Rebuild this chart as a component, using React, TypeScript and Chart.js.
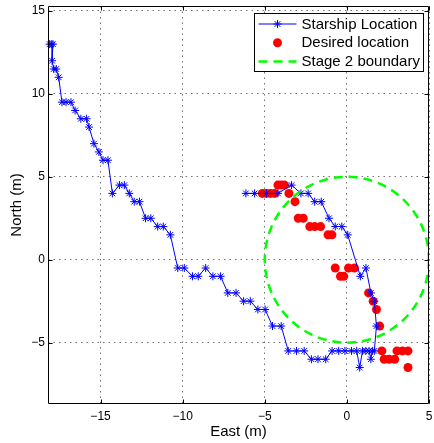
import React, { useEffect, useRef } from 'react';
import { Chart, registerables } from 'chart.js';

Chart.register(...registerables);

// ---------------- data ----------------
const starshipEast = [
  -18.1, -18.0, -17.9, -17.95, -17.85, -17.7, -17.55, -17.35, -17.1, -16.8,
  -16.55, -16.2, -15.85, -15.7, -15.4, -15.1, -14.85, -14.55, -14.28, -13.85,
  -13.55, -13.25, -12.95, -12.63, -12.26, -11.94, -11.52, -11.18, -10.75, -10.3,
  -9.9, -9.4, -9.05, -8.6, -8.16, -7.69, -7.25, -6.75, -6.29, -5.88,
  -5.42, -4.98, -4.53, -4.0, -3.57, -3.07, -2.6, -2.16, -1.76, -1.29,
  -0.9, -0.5, -0.12, 0.28, 0.6, 0.78, 0.95, 1.15, 1.35, 1.46,
  1.55, 1.67, 1.8, 1.67, 1.46, 1.16, 0.82, 0.05, -0.31, -0.71,
  -1.09, -1.56, -1.96, -2.36, -2.8, -3.37, -4.2, -4.9, -5.62, -6.15,
];
const starshipNorth = [
  13, 13, 13, 12, 11.5, 11.5, 11, 9.5, 9.5, 9.5,
  9, 8.5, 8.5, 8, 7, 6.5, 6, 6, 4, 4.5,
  4.5, 4, 3.5, 3.5, 2.5, 2.5, 2, 2, 1.5, -0.5,
  -0.5, -1, -1, -0.5, -1, -1, -2, -2, -2.5, -2.5,
  -3, -3, -4, -4, -5.5, -5.5, -5.5, -6, -6, -6,
  -5.5, -5.5, -5.5, -5.5, -5.5, -6.5, -5.5, -5.5, -5.5, -6,
  -5.5, -5.5, -4, -2.5, -2, -0.5, -1, 1.5, 2, 2,
  2.5, 3.5, 3.5, 4, 4, 4.5, 4, 4, 4, 4,
];

const desiredEast = [
  -5.15, -4.9, -4.65, -4.4, -3.53, -4.2, -4.0, -3.8, -3.16, -2.96,
  -2.66, -2.26, -1.96, -1.6, -1.15, -0.91, -0.71, -0.39, -0.19, 0.1,
  0.46, 1.32, 1.6, 1.8, 2.0, 2.13, 2.27, 2.57, 2.91, 3.05,
  3.38, 3.72, 3.72,
];
const desiredNorth = [
  4, 4, 4, 4, 4, 4.5, 4.5, 4.5, 3.5, 2.5,
  2.5, 2, 2, 2, 1.5, 1.5, -0.5, -1, -1, -0.5,
  -0.5, -2, -2.5, -3, -4, -5.5, -6, -6, -6, -5.5,
  -5.5, -5.5, -6.5,
];

const boundaryCenter = [0, 0];
const boundaryRadius = 5;

const xTicks = [-15, -10, -5, 0, 5];
const yTicks = [-5, 0, 5, 10, 15];
const xRange = [-18.2, 5];
const yRange = [-8.7, 15.3];

const xTitle = 'East (m)';
const yTitle = 'North (m)';
const legendLabels = ['Starship Location', 'Desired location', 'Stage 2 boundary'];

// ---------------- styles ----------------
const FONT = '"Liberation Sans", Arial, Helvetica, sans-serif';
const BLUE = '#0000ff';
const RED = '#ff0000';
const GREEN = '#00ff00';

function drawStar(ctx: CanvasRenderingContext2D, x: number, y: number, r: number) {
  ctx.beginPath();
  for (let k = 0; k < 4; k++) {
    const ang = (k * Math.PI) / 4;
    ctx.moveTo(x - Math.cos(ang) * r, y - Math.sin(ang) * r);
    ctx.lineTo(x + Math.cos(ang) * r, y + Math.sin(ang) * r);
  }
  ctx.stroke();
}

const overlayPlugin = {
  id: 'overlay',
  afterDatasetsDraw(chart: any) {
    const { ctx, chartArea: a, scales } = chart;
    const x = scales.x;
    const y = scales.y;
    const cx = x.getPixelForValue(boundaryCenter[0]);
    const cy = y.getPixelForValue(boundaryCenter[1]);
    const rx = Math.abs(x.getPixelForValue(boundaryCenter[0] + boundaryRadius) - cx);
    const ry = Math.abs(y.getPixelForValue(boundaryCenter[1] + boundaryRadius) - cy);
    ctx.save();
    ctx.beginPath();
    ctx.rect(a.left, a.top, a.right - a.left, a.bottom - a.top);
    ctx.clip();
    ctx.beginPath();
    ctx.ellipse(cx, cy, rx, ry, 0, 0, Math.PI * 2);
    ctx.strokeStyle = GREEN;
    ctx.lineWidth = 2.5;
    ctx.setLineDash([9, 6]);
    ctx.stroke();
    ctx.restore();
  },
  afterDraw(chart: any) {
    const { ctx, chartArea: a, scales } = chart;
    const x = scales.x;
    const y = scales.y;
    ctx.save();
    // axes box
    ctx.strokeStyle = '#000';
    ctx.lineWidth = 1;
    ctx.setLineDash([]);
    const L = Math.round(a.left) + 0.5;
    const R = Math.round(a.right) - 0.5;
    const T = Math.round(a.top) + 0.5;
    const B = Math.round(a.bottom) - 0.5;
    ctx.beginPath();
    ctx.rect(L, T, R - L, B - T);
    ctx.stroke();
    // inner tick marks
    const tl = 4;
    ctx.beginPath();
    xTicks.forEach((v) => {
      const px = Math.round(x.getPixelForValue(v)) + 0.5;
      ctx.moveTo(px, B);
      ctx.lineTo(px, B - tl);
      ctx.moveTo(px, T);
      ctx.lineTo(px, T + tl);
    });
    yTicks.forEach((v) => {
      const py = Math.round(y.getPixelForValue(v)) + 0.5;
      ctx.moveTo(L, py);
      ctx.lineTo(L + tl, py);
      ctx.moveTo(R, py);
      ctx.lineTo(R - tl, py);
    });
    ctx.stroke();

    // legend
    const boxR = Math.round(a.right) - 5.5;
    const boxL = boxR - 169;
    const boxT = Math.round(a.top) + 7.5;
    const boxB = boxT + 58;
    ctx.fillStyle = '#fff';
    ctx.fillRect(boxL, boxT, boxR - boxL, boxB - boxT);
    ctx.strokeStyle = '#000';
    ctx.lineWidth = 1;
    ctx.strokeRect(boxL, boxT, boxR - boxL, boxB - boxT);
    const rowY = [boxT + 10.5, boxT + 29.2, boxT + 48];
    const sx0 = boxL + 4;
    const sx1 = boxL + 42;
    const mx = (sx0 + sx1) / 2;
    // row 1: blue line with star
    ctx.strokeStyle = BLUE;
    ctx.lineWidth = 1;
    ctx.beginPath();
    ctx.moveTo(sx0, rowY[0]);
    ctx.lineTo(sx1, rowY[0]);
    ctx.stroke();
    drawStar(ctx, mx, rowY[0], 4);
    // row 2: red dot
    ctx.fillStyle = RED;
    ctx.beginPath();
    ctx.arc(mx, rowY[1], 4.5, 0, Math.PI * 2);
    ctx.fill();
    // row 3: green dashed
    ctx.strokeStyle = GREEN;
    ctx.lineWidth = 2.5;
    ctx.setLineDash([9, 6]);
    ctx.beginPath();
    ctx.moveTo(sx0, rowY[2]);
    ctx.lineTo(sx1, rowY[2]);
    ctx.stroke();
    ctx.setLineDash([]);
    // text
    ctx.fillStyle = '#000';
    ctx.font = `15px ${FONT}`;
    ctx.textBaseline = 'middle';
    ctx.textAlign = 'left';
    legendLabels.forEach((t, i) => ctx.fillText(t, boxL + 47, rowY[i] + 0.5));
    ctx.restore();
  },
};

const minusFmt = (v: number | string) => String(v).replace('-', '\u2212');

export default function App() {
  const canvasRef = useRef<HTMLCanvasElement | null>(null);

  useEffect(() => {
    document.body.style.margin = '0';
    document.body.style.overflow = 'hidden';
    const canvas = canvasRef.current;
    if (!canvas) return;
    const starship = starshipEast.map((e, i) => ({ x: e, y: starshipNorth[i] }));
    const desired = desiredEast.map((e, i) => ({ x: e, y: desiredNorth[i] }));

    const chart = new Chart(canvas, {
      type: 'scatter',
      data: {
        datasets: [
          {
            label: legendLabels[0],
            data: starship,
            showLine: true,
            borderColor: BLUE,
            backgroundColor: BLUE,
            borderWidth: 1,
            pointStyle: 'star',
            pointRadius: 4,
            pointBorderWidth: 1,
            pointBorderColor: BLUE,
            pointHoverRadius: 4,
            clip: false,
          },
          {
            label: legendLabels[1],
            data: desired,
            showLine: false,
            pointStyle: 'circle',
            pointRadius: 4.5,
            pointBorderWidth: 0,
            backgroundColor: RED,
            borderColor: RED,
            clip: false,
          },
        ],
      },
      options: {
        animation: false,
        responsive: true,
        maintainAspectRatio: false,
        events: [],
        layout: { padding: { left: 0, right: 2, top: 6, bottom: 0 } },
        plugins: {
          legend: { display: false },
          tooltip: { enabled: false },
        },
        scales: {
          x: {
            type: 'linear',
            min: xRange[0],
            max: xRange[1],
            afterBuildTicks: (s: any) => {
              s.ticks = xTicks.map((v) => ({ value: v }));
            },
            afterFit: (s: any) => {
              s.height = 39;
              s.paddingLeft = 0;
              s.paddingRight = 0;
            },
            grid: {
              color: 'rgba(0,0,0,0.55)',
              lineWidth: 1,
              drawTicks: false,
            },
            border: { display: false, dash: [1.5, 4] },
            ticks: {
              color: '#000',
              font: { family: FONT, size: 12 },
              padding: 5,
              maxRotation: 0,
              autoSkip: false,
              callback: (v: any) => minusFmt(v),
            },
            title: {
              display: true,
              text: xTitle,
              color: '#000',
              font: { family: FONT, size: 15 },
              padding: { top: 0, bottom: 2 },
            },
          },
          y: {
            type: 'linear',
            min: yRange[0],
            max: yRange[1],
            afterBuildTicks: (s: any) => {
              s.ticks = yTicks.map((v) => ({ value: v }));
            },
            afterFit: (s: any) => {
              s.width = 48;
              s.paddingTop = 0;
              s.paddingBottom = 0;
            },
            grid: {
              color: 'rgba(0,0,0,0.55)',
              lineWidth: 1,
              drawTicks: false,
            },
            border: { display: false, dash: [1.5, 4] },
            ticks: {
              color: '#000',
              font: { family: FONT, size: 12 },
              padding: 3,
              autoSkip: false,
              callback: (v: any) => minusFmt(v),
            },
            title: {
              display: true,
              text: yTitle,
              color: '#000',
              font: { family: FONT, size: 15 },
              padding: { top: 8, bottom: 0 },
            },
          },
        },
      },
      plugins: [overlayPlugin],
    } as any);

    return () => chart.destroy();
  }, []);

  return (
    <div style={{ position: 'relative', width: 434, height: 443 }}>
      <canvas ref={canvasRef} />
    </div>
  );
}
